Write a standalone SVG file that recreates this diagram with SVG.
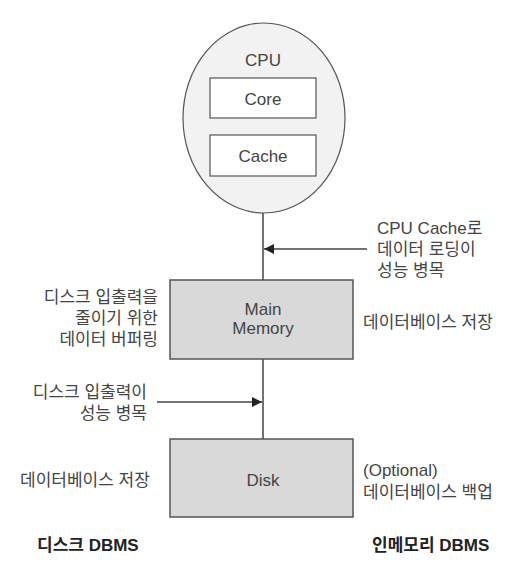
<svg xmlns="http://www.w3.org/2000/svg" width="525" height="575" viewBox="0 0 525 575">
<style>
text{font-family:"Liberation Sans","Noto Sans CJK KR",sans-serif;font-size:17px;fill:#444}
.c{text-anchor:middle}
.r{text-anchor:end}
.b{font-weight:bold;fill:#222}
.box{fill:#d9d9d9;stroke:#555;stroke-width:1.5}
.wbox{fill:#fff;stroke:#555;stroke-width:1.2}
.ln{stroke:#444;stroke-width:1.5;fill:none}
</style>
<defs>
<marker id="ah" viewBox="0 0 10 10" refX="10" refY="5" markerWidth="10" markerHeight="10" markerUnits="userSpaceOnUse" orient="auto">
<path d="M0,0 L10,5 L0,10 z" fill="#222"/>
</marker>
</defs>
<g id="connectors">
<line class="ln" x1="263" y1="118" x2="263" y2="135"/>
<line class="ln" x1="263" y1="176" x2="263" y2="280"/>
<line class="ln" x1="263" y1="359" x2="263" y2="439"/>
<line class="ln" x1="367" y1="249" x2="264" y2="249" marker-end="url(#ah)"/>
<line class="ln" x1="157" y1="402" x2="262" y2="402" marker-end="url(#ah)"/>
</g>
<g id="cpu">
<ellipse cx="264" cy="118" rx="81" ry="95" fill="#f2f2f2" stroke="#555" stroke-width="1.2"/>
<text class="c" x="263" y="66">CPU</text>
</g>
<g id="core">
<rect class="wbox" x="210" y="78" width="106" height="40"/>
<text class="c" x="263" y="105">Core</text>
</g>
<g id="cache">
<rect class="wbox" x="210" y="135" width="106" height="41"/>
<text class="c" x="263" y="162">Cache</text>
</g>
<g id="memory">
<rect class="box" x="170" y="280" width="183" height="79"/>
<text class="c" x="263" y="315">Main</text>
<text class="c" x="263" y="334">Memory</text>
</g>
<g id="disk">
<rect class="box" x="170" y="439" width="183" height="78"/>
<text class="c" x="263" y="486">Disk</text>
</g>
<g id="labels">
<text x="377" y="234">CPU Cache로</text>
<text x="377" y="255">데이터 로딩이</text>
<text x="377" y="276">성능 병목</text>
<text class="r" x="158" y="303">디스크 입출력을</text>
<text class="r" x="158" y="324">줄이기 위한</text>
<text class="r" x="158" y="345">데이터 버퍼링</text>
<text x="363" y="328">데이터베이스 저장</text>
<text class="r" x="147" y="398">디스크 입출력이</text>
<text class="r" x="147" y="419">성능 병목</text>
<text x="20" y="486">데이터베이스 저장</text>
<text x="363" y="476">(Optional)</text>
<text x="363" y="498">데이터베이스 백업</text>
<text class="b" x="37" y="551">디스크 DBMS</text>
<text class="b" x="372" y="551">인메모리 DBMS</text>
</g>
</svg>
